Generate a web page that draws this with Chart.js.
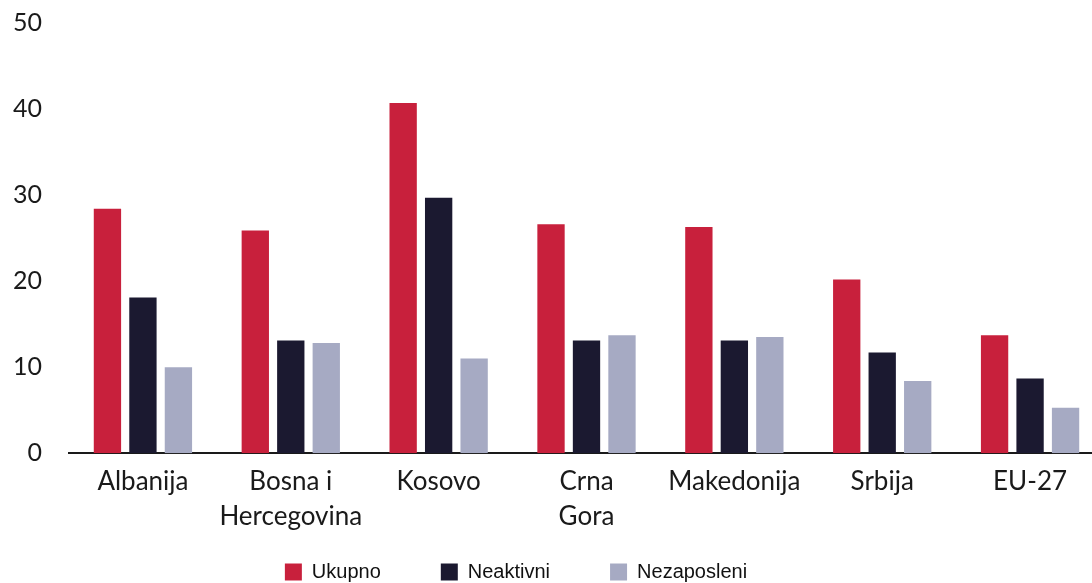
<!DOCTYPE html>
<html>
<head>
<meta charset="utf-8">
<script src="https://cdn.jsdelivr.net/npm/chart.js@4"></script>
<style>
  html, body { margin: 0; padding: 0; background: #fff; overflow: hidden; }
  #wrap { width: 1092px; height: 583px; overflow: hidden; }
</style>
</head>
<body>
<div id="wrap"><canvas id="youthChart" width="1104" height="635"></canvas></div>
<script>
var countries = [
    ["Albanija"],
    ["Bosna i", "Hercegovina"],
    ["Kosovo"],
    ["Crna", "Gora"],
    ["Makedonija"],
    ["Srbija"],
    ["EU-27"],
];
var ukupno = [28.4, 25.9, 40.7, 26.6, 26.3, 20.2, 13.7];
var neaktivni = [18.1, 13.1, 29.7, 13.1, 13.1, 11.7, 8.7];
var nezaposleni = [10.0, 12.8, 11.0, 13.7, 13.5, 8.4, 5.3];
var yTicks = [0, 10, 20, 30, 40, 50];

Chart.defaults.color = "#1a1a1a";
Chart.defaults.font.family = "Lato";

// legend in the original sits a bit left of centre and close under the labels
var shiftLegend = {
    id: "shiftLegend",
    afterLayout: function(chart) {
        chart.legend.left -= 36;
        chart.legend.right -= 36;
        chart.legend.top -= 43;
        chart.legend.bottom -= 43;
    }
};

var youthCanvas = document.getElementById("youthChart");
var youthChart = new Chart(youthCanvas, {
    type: "bar",
    data: {
        labels: countries,
        datasets: [
            { label: "Ukupno", data: ukupno, backgroundColor: "#c8203c" },
            { label: "Neaktivni", data: neaktivni, backgroundColor: "#1b1930" },
            { label: "Nezaposleni", data: nezaposleni, backgroundColor: "#a6aac3" },
        ]
    },
    options: {
        responsive: false,
        animation: false,
        layout: { padding: { top: 23, right: 0, left: 0, bottom: 0 } },
        datasets: {
            bar: { barPercentage: 0.77, categoryPercentage: 0.72 }
        },
        scales: {
            x: {
                grid: { display: false, drawTicks: false },
                border: { color: "#1a1a1a", width: 2 },
                ticks: {
                    padding: 10,
                    autoSkip: false,
                    maxRotation: 0,
                    font: { size: 26, lineHeight: 1.38 },
                    color: "#1a1a1a"
                }
            },
            y: {
                min: 0,
                max: 50,
                afterBuildTicks: function(scale) {
                    scale.ticks = yTicks.map(function(v) { return { value: v }; });
                },
                afterFit: function(scale) {
                    scale.width = 69;
                    scale.paddingTop = 0;
                    scale.paddingBottom = 0;
                },
                grid: { display: false, drawTicks: false },
                border: { display: false },
                ticks: {
                    padding: 27,
                    font: { size: 25 },
                    color: "#1a1a1a"
                }
            }
        },
        plugins: {
            tooltip: { enabled: false },
            legend: {
                position: "bottom",
                labels: {
                    boxWidth: 17,
                    boxHeight: 17,
                    padding: 60,
                    color: "#111",
                    font: { size: 20, family: "Liberation Sans" }
                }
            }
        }
    },
    plugins: [shiftLegend]
});
</script>
</body>
</html>
